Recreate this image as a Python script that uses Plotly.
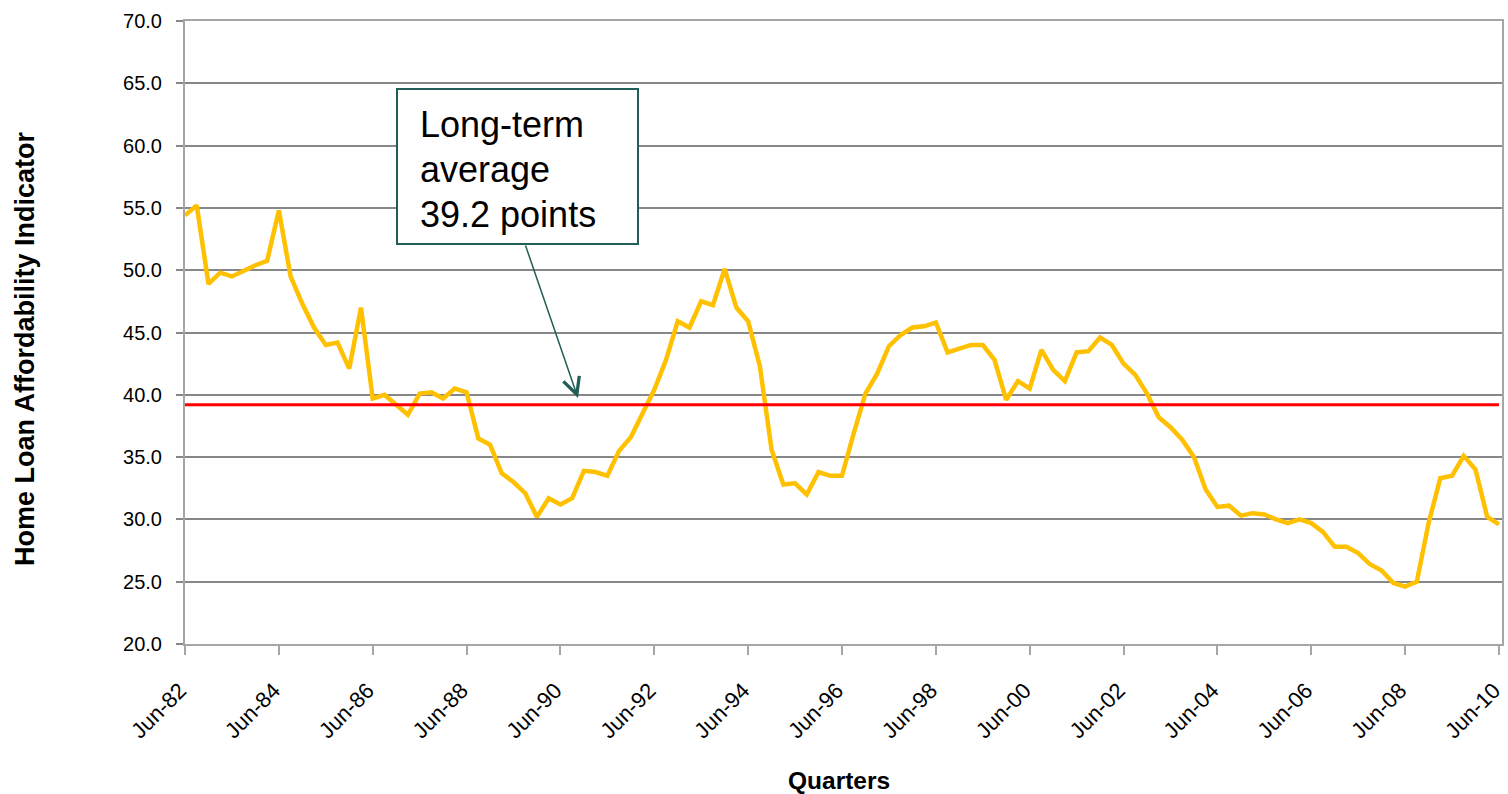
import plotly.graph_objects as go

# Quarterly home loan affordability indicator, Jun-82 to Jun-10
START_YEAR = 1982
QUARTER_MONTHS = ["Jun", "Sep", "Dec", "Mar"]

affordability = [
    54.4, 55.2, 48.9, 49.8, 49.5, 50.0, 50.4, 50.75, 54.8, 49.5,
    47.3, 45.4, 44.0, 44.2, 42.1, 47.0, 39.7, 40.0, 39.2, 38.4,
    40.1, 40.2, 39.7, 40.5, 40.2, 36.5, 36.0, 33.7, 33.0, 32.1,
    30.2, 31.7, 31.2, 31.7, 33.9, 33.8, 33.5, 35.5, 36.6, 38.5,
    40.4, 42.8, 45.9, 45.4, 47.5, 47.2, 50.1, 47.0, 45.9, 42.3,
    35.6, 32.8, 32.9, 32.0, 33.8, 33.5, 33.5, 36.9, 40.1, 41.7,
    43.9, 44.8, 45.4, 45.5, 45.8, 43.4, 43.7, 44.0, 44.0, 42.8,
    39.6, 41.1, 40.5, 43.6, 42.0, 41.1, 43.4, 43.5, 44.6, 44.0,
    42.5, 41.6, 40.1, 38.2, 37.4, 36.4, 35.0, 32.4, 31.0, 31.1,
    30.3, 30.5, 30.4, 30.0, 29.7, 30.0, 29.7, 29.0, 27.8, 27.8,
    27.3, 26.4, 25.9, 24.9, 24.6, 25.0, 29.7, 33.3, 33.5, 35.1,
    34.0, 30.2, 29.6,
]

LONG_TERM_AVG = 39.2
CALLOUT_LINES = ["Long-term", "average", f"{LONG_TERM_AVG} points"]

# Quarter labels such as "Jun-82", "Sep-82", "Dec-82", "Mar-83", ...
quarters = []
for i in range(len(affordability)):
    month = QUARTER_MONTHS[i % 4]
    year = START_YEAR + (i + 2) // 4
    quarters.append(f"{month}-{year % 100:02d}")

# Axis ticks: every second June
x_ticks = quarters[::8]
y_ticks = [20, 25, 30, 35, 40, 45, 50, 55, 60, 65, 70]

FONT = "Liberation Sans, Arial, sans-serif"
GRID = "#878787"
FRAME = "#a6a6a6"
CALLOUT = "#215e57"

# Plot-area pixel frame, used to place the callout in paper units
PX_LEFT, PX_RIGHT, PX_TOP, PX_BOTTOM = 185, 1502, 21, 644


def px_x(px):
    return (px - PX_LEFT) / (PX_RIGHT - PX_LEFT)


def px_y(py):
    return (PX_BOTTOM - py) / (PX_BOTTOM - PX_TOP)


fig = go.Figure()

fig.add_trace(go.Scatter(
    x=quarters,
    y=affordability,
    mode="lines",
    line=dict(color="#ffc000", width=4.5),
    showlegend=False,
    hoverinfo="x+y",
))

fig.add_trace(go.Scatter(
    x=quarters,
    y=[LONG_TERM_AVG] * len(quarters),
    mode="lines",
    line=dict(color="#ff0000", width=3),
    showlegend=False,
    hoverinfo="y",
))

# Callout text, one annotation per line for even spacing inside the box
callout_text = [
    dict(
        text=line,
        xref="paper", yref="paper",
        x=px_x(418), y=px_y(125 + 44.5 * k),
        xanchor="left", yanchor="middle",
        align="left",
        showarrow=False,
        font=dict(size=36, family=FONT, color="black"),
    )
    for k, line in enumerate(CALLOUT_LINES)
]

fig.update_layout(
    template="none",
    width=1508,
    height=794,
    margin=dict(l=PX_LEFT, r=1508 - PX_RIGHT, t=PX_TOP, b=794 - PX_BOTTOM, pad=0),
    paper_bgcolor="white",
    plot_bgcolor="white",
    font=dict(family=FONT, color="black"),
    xaxis=dict(
        type="category",
        automargin=False,
        range=[0, len(quarters) - 1 + 0.26],
        tickmode="array",
        tickvals=x_ticks,
        ticktext=x_ticks,
        tickangle=-45,
        tickfont=dict(size=22, family=FONT, color="black"),
        ticks="outside",
        ticklen=9,
        tickwidth=2,
        tickcolor=FRAME,
        ticklabelstandoff=14,
        ticklabelshift=-5,
        showline=True,
        linecolor=FRAME,
        linewidth=2,
        mirror=True,
        showgrid=False,
        zeroline=False,
    ),
    yaxis=dict(
        automargin=False,
        range=[20, 70],
        tickmode="array",
        tickvals=y_ticks,
        ticktext=[f"{v:.1f}" for v in y_ticks],
        tickfont=dict(size=20, family=FONT, color="black"),
        ticks="outside",
        ticklen=7,
        tickwidth=2,
        tickcolor=GRID,
        ticklabelstandoff=10,
        showline=True,
        linecolor=FRAME,
        linewidth=2,
        mirror=True,
        showgrid=True,
        gridcolor=GRID,
        gridwidth=2,
        zeroline=False,
    ),
    shapes=[
        dict(
            type="rect", xref="paper", yref="paper",
            x0=px_x(397), x1=px_x(638),
            y0=px_y(244), y1=px_y(89),
            line=dict(color=CALLOUT, width=2),
            fillcolor="white",
            layer="above",
        ),
    ],
    annotations=callout_text + [
        dict(
            text="",
            xref="paper", yref="paper",
            x=px_x(578), y=px_y(398),
            ax=-53, ay=-154,
            showarrow=True,
            arrowhead=5,
            arrowsize=2.2,
            arrowwidth=1.5,
            arrowcolor=CALLOUT,
        ),
        dict(
            text="<b>Home Loan Affordability Indicator</b>",
            xref="paper", yref="paper",
            x=px_x(25), y=px_y(349),
            xanchor="center", yanchor="middle",
            textangle=-90,
            showarrow=False,
            font=dict(size=27, family=FONT, color="black"),
        ),
        dict(
            text="<b>Quarters</b>",
            xref="paper", yref="paper",
            x=px_x(839), y=px_y(780),
            xanchor="center", yanchor="middle",
            showarrow=False,
            font=dict(size=24.5, family=FONT, color="black"),
        ),
    ],
)

fig.write_html("out.html")
